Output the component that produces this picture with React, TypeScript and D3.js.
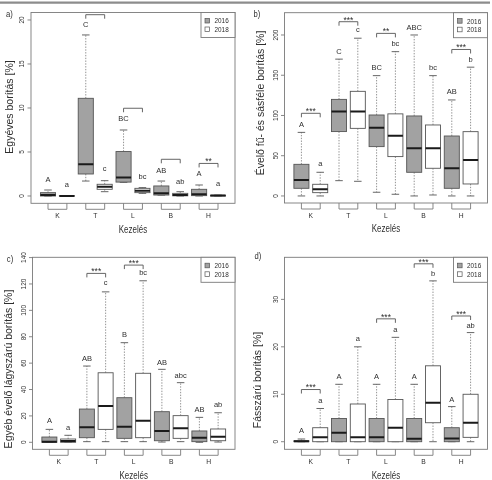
import React from "react";
import * as d3 from "d3";

// ---------- data ----------
const groups = ["K", "T", "L", "B", "H"];
const years = ["2016", "2018"];

// [min, q1, median, q3, max] per box: K2016, K2018, T2016, T2018, ...
const statsA = [
  [0, 0, 0.1, 0.38, 0.68], [0, 0, 0, 0.02, 0.05],
  [1.7, 2.5, 3.6, 11.1, 18.3], [0.49, 0.76, 1.06, 1.33, 1.74],
  [1.55, 1.58, 2.1, 5.05, 7.5], [0.3, 0.38, 0.6, 0.87, 0.95],
  [0.1, 0.11, 0.3, 1.14, 1.7], [0, 0.02, 0.1, 0.3, 0.49],
  [0, 0.04, 0.19, 0.76, 1.25], [0, 0, 0.05, 0.08, 0.1],
];
const lettersA = ["A", "a", "C", "c", "BC", "bc", "AB", "ab", "A", "a"];
const letterYA = [1.9, 1.33, 19.5, 3.1, 8.8, 2.2, 2.9, 1.6, 2.5, 1.44];
const bracketGroupsA = [1, 2, 3, 4];
const bracketYA = [20.6, 9.97, 4.17, 3.7];
const bracketStarsA = ["", "", "", "**"];
const ticksA = [0, 5, 10, 15, 20];

const statsB = [
  [0, 9.5, 19.9, 39.3, 79], [0, 4.1, 8.3, 14.5, 29.4],
  [19, 80, 105, 120, 170], [18.2, 84, 105, 130, 196],
  [4.6, 61.3, 84.9, 100.6, 149.5], [2.1, 48.9, 74.9, 102, 179.3],
  [0, 29.4, 59.2, 99.4, 200], [1.2, 34.4, 59.2, 88.2, 149.5],
  [0, 9.5, 34.4, 74.5, 119.3], [0, 14.9, 44.7, 79.9, 160],
];
const lettersB = ["A", "a", "C", "c", "BC", "bc", "ABC", "bc", "AB", "b"];
const letterYB = [89.4, 40.6, 179, 207, 159.4, 189.6, 209.5, 159.4, 129.6, 169.8];
const bracketGroupsB = [0, 1, 2, 4];
const bracketYB = [102.7, 216.5, 202, 182];
const bracketStarsB = ["***", "***", "**", "***"];
const ticksB = [0, 50, 100, 150, 200];

const statsC = [
  [0, 0, 0.5, 4.0, 9.8], [0, 0, 0.9, 2.5, 5.3],
  [0.5, 3.5, 11.4, 25.2, 57.8], [0.5, 9.8, 27.5, 52.7, 114],
  [0.5, 3.0, 11.8, 33.8, 75.5], [0.5, 3.5, 16.4, 52.3, 122.4],
  [0.2, 1.2, 8.6, 23.2, 55.3], [0.5, 3.0, 10.6, 20.2, 45.2],
  [0, 0.5, 3.5, 8.6, 18.9], [0.2, 1.2, 4.3, 10.1, 22.4],
];
const lettersC = ["A", "a", "AB", "c", "B", "bc", "AB", "abc", "AB", "ab"];
const letterYC = [16.9, 11.4, 63.6, 120.9, 81.8, 128.5, 60.8, 51, 24.5, 28.3];
const bracketGroupsC = [1, 2];
const bracketYC = [128, 134.3];
const bracketStarsC = ["***", "***"];
const ticksC = [0, 20, 40, 60, 80, 100, 120, 140];

const statsD = [
  [0, 0, 0.1, 0.2, 0.57], [0, 0, 0.92, 2.95, 7.0],
  [0, 0, 1.9, 4.9, 12.1], [0, 0, 0.92, 7.95, 20.0],
  [0, 0, 0.92, 4.9, 12.1], [0, 0, 2.95, 8.9, 22.0],
  [0, 0, 0.63, 4.9, 12.1], [0, 4.0, 8.2, 16.0, 33.9],
  [0, 0, 0.7, 2.95, 7.4], [0, 0.92, 4.0, 10.0, 23.0],
];
const lettersD = ["A", "a", "A", "a", "A", "a", "A", "b", "A", "ab"];
const letterYD = [2.3, 8.6, 13.7, 21.8, 13.7, 23.7, 13.7, 35.5, 9.0, 24.6];
const bracketGroupsD = [0, 2, 3, 4];
const bracketYD = [11.0, 25.9, 37.5, 26.5];
const bracketStarsD = ["***", "***", "***", "***"];
const ticksD = [0, 10, 20, 30];

const xTitle = "Kezelés";

// ---------- style ----------
const FONT = "'Liberation Sans', Arial, Helvetica, sans-serif";
const TXT = "#2e2e2e";
const FRAME = "#7a7a7a";
const BOXSTROKE = "#555";
const GRAY = "#a2a2a2";

type Cfg = {
  tag: string;
  tagX: number;
  tagY: number;
  left: number;
  right: number;
  top: number;
  bottom: number;
  yDomain: [number, number];
  ticks: number[];
  ylabel: string;
  ylabelX: number;
  ylabelY: number;
  stats: number[][];
  letters: string[];
  letterY: number[];
  bGroups: number[];
  bY: number[];
  bStars: string[];
};

function Txt(props: {
  x: number; y: number; size: number; children: any;
  anchor?: string; sx?: number; rot?: number;
}) {
  const { x, y, size, children, anchor = "middle", sx = 1, rot = 0 } = props;
  let tr = `translate(${x},${y})`;
  if (sx !== 1) tr += ` scale(${sx},1)`;
  if (rot) tr += ` rotate(${rot})`;
  return (
    <text transform={tr} fontSize={size} textAnchor={anchor as any}
      dominantBaseline="central" fill={TXT} fontFamily={FONT}>
      {children}
    </text>
  );
}

function Panel({ c }: { c: Cfg }) {
  const xs = d3.scaleLinear().domain([0.1, 10.9]).range([c.left, c.right]);
  const ys = d3.scaleLinear().domain(c.yDomain).range([c.bottom, c.top]);
  const bw = xs(1.4) - xs(0.6);
  const cap = bw * 0.5;
  const clipId = "clip-" + c.tag.replace(")", "");
  const legW = 34, legH = 25;
  const legX = c.right - legW, legY = c.top;

  return (
    <g>
      <defs>
        <clipPath id={clipId}>
          <rect x={c.left} y={c.top} width={c.right - c.left} height={c.bottom - c.top} />
        </clipPath>
      </defs>
      <Txt x={c.tagX} y={c.tagY} size={9} sx={0.85}>{c.tag}</Txt>

      <g clipPath={`url(#${clipId})`}>
        {c.stats.map((s, i) => {
          const x = xs(i + 1);
          const [mn, q1, md, q3, mx] = s;
          const fill = i % 2 === 0 ? GRAY : "#fff";
          return (
            <g key={i}>
              <line x1={x} x2={x} y1={ys(q3)} y2={ys(mx)} stroke="#777" strokeWidth={0.8} strokeDasharray="1.4,1.4" />
              <line x1={x} x2={x} y1={ys(q1)} y2={ys(mn)} stroke="#777" strokeWidth={0.8} strokeDasharray="1.4,1.4" />
              <line x1={x - cap / 2} x2={x + cap / 2} y1={ys(mx)} y2={ys(mx)} stroke={BOXSTROKE} strokeWidth={0.9} />
              <line x1={x - cap / 2} x2={x + cap / 2} y1={ys(mn)} y2={ys(mn)} stroke={BOXSTROKE} strokeWidth={0.9} />
              <rect x={x - bw / 2} y={ys(q3)} width={bw} height={Math.max(0.01, ys(q1) - ys(q3))}
                fill={fill} stroke={BOXSTROKE} strokeWidth={0.9} />
              <line x1={x - bw / 2} x2={x + bw / 2} y1={ys(md)} y2={ys(md)} stroke="#1a1a1a" strokeWidth={2} />
            </g>
          );
        })}
        {c.letters.map((l, i) => (
          <Txt key={"l" + i} x={xs(i + 1)} y={ys(c.letterY[i])} size={7.5}>{l}</Txt>
        ))}
        {c.bGroups.map((g, k) => {
          const x1 = xs(2 * g + 1), x2 = xs(2 * g + 2), y = ys(c.bY[k]);
          return (
            <g key={"b" + k}>
              <path d={`M${x1},${y + 4}V${y}H${x2}V${y + 4}`} fill="none" stroke={BOXSTROKE} strokeWidth={0.9} />
              {c.bStars[k] && (
                <Txt x={(x1 + x2) / 2} y={y - 2.2} size={8.5}>{c.bStars[k]}</Txt>
              )}
            </g>
          );
        })}
      </g>

      <rect x={c.left} y={c.top} width={c.right - c.left} height={c.bottom - c.top}
        fill="none" stroke={FRAME} strokeWidth={0.9} />

      {c.ticks.map((t) => (
        <g key={"t" + t}>
          <line x1={c.left - 3.5} x2={c.left} y1={ys(t)} y2={ys(t)} stroke={FRAME} strokeWidth={0.9} />
          <Txt x={c.left - 9.5} y={ys(t)} size={6.5} rot={-90}>{t}</Txt>
        </g>
      ))}

      {groups.map((g, gi) => {
        const x1 = xs(2 * gi + 1), x2 = xs(2 * gi + 2);
        return (
          <g key={"g" + g}>
            <path d={`M${x1},${c.bottom}V${c.bottom + 6}H${x2}V${c.bottom}`} fill="none" stroke={FRAME} strokeWidth={0.9} />
            <Txt x={(x1 + x2) / 2} y={c.bottom + 13} size={7.5} sx={0.9}>{g}</Txt>
          </g>
        );
      })}

      <Txt x={(c.left + c.right) / 2} y={c.bottom + 26} size={10} sx={0.8}>{xTitle}</Txt>
      <Txt x={c.ylabelX} y={c.ylabelY} size={10.5} rot={-90}>{c.ylabel}</Txt>

      <rect x={legX} y={legY} width={legW} height={legH} fill="#fff" stroke={FRAME} strokeWidth={0.9} />
      {years.map((yr, k) => {
        const cy = legY + 8.2 + k * 8.6;
        return (
          <g key={"y" + yr}>
            <rect x={legX + 4} y={cy - 2.3} width={4.6} height={4.6}
              fill={k === 0 ? GRAY : "#fff"} stroke={BOXSTROKE} strokeWidth={0.7} />
            <Txt x={legX + 13.5} y={cy} size={7.5} sx={0.85} anchor="start">{yr}</Txt>
          </g>
        );
      })}
    </g>
  );
}

const panels: Cfg[] = [
  {
    tag: "a)", tagX: 9.5, tagY: 13.5,
    left: 31, right: 235, top: 12.5, bottom: 203.3, yDomain: [-0.83, 20.85],
    ticks: ticksA, ylabel: "Egyéves borítás [%]", ylabelX: 8.5, ylabelY: 107,
    stats: statsA, letters: lettersA, letterY: letterYA,
    bGroups: bracketGroupsA, bY: bracketYA, bStars: bracketStarsA,
  },
  {
    tag: "b)", tagX: 257, tagY: 13.5,
    left: 284.5, right: 487.5, top: 12.7, bottom: 203, yDomain: [-8.75, 227.7],
    ticks: ticksB, ylabel: "Évelő fű- és sásféle borítás [%]", ylabelX: 259.5, ylabelY: 103,
    stats: statsB, letters: lettersB, letterY: letterYB,
    bGroups: bracketGroupsB, bY: bracketYB, bStars: bracketStarsB,
  },
  {
    tag: "c)", tagX: 10, tagY: 258.5,
    left: 32.5, right: 235, top: 257.3, bottom: 449.3, yDomain: [-5.3, 140.2],
    ticks: ticksC, ylabel: "Egyéb évelő lágyszárú borítás [%]", ylabelX: 7.5, ylabelY: 369,
    stats: statsC, letters: lettersC, letterY: letterYC,
    bGroups: bracketGroupsC, bY: bracketYC, bStars: bracketStarsC,
  },
  {
    tag: "d)", tagX: 258, tagY: 256,
    left: 284.5, right: 487.5, top: 257.3, bottom: 449.3, yDomain: [-1.6, 38.87],
    ticks: ticksD, ylabel: "Fásszárú borítás [%]", ylabelX: 257, ylabelY: 380,
    stats: statsD, letters: lettersD, letterY: letterYD,
    bGroups: bracketGroupsD, bY: bracketYD, bStars: bracketStarsD,
  },
];

export default function App() {
  return (
    <svg width={492} height={480} viewBox="0 0 492 480"
      style={{ position: "absolute", left: 0, top: 0, background: "#fff", filter: "grayscale(1) blur(0.3px)" }}>
      <rect x={0} y={0} width={492} height={480} fill="#fff" />
      <line x1={0} x2={490} y1={2.7} y2={2.7} stroke="#8c8c8c" strokeWidth={2.2} />
      {panels.map((p) => <Panel key={p.tag} c={p} />)}
    </svg>
  );
}
